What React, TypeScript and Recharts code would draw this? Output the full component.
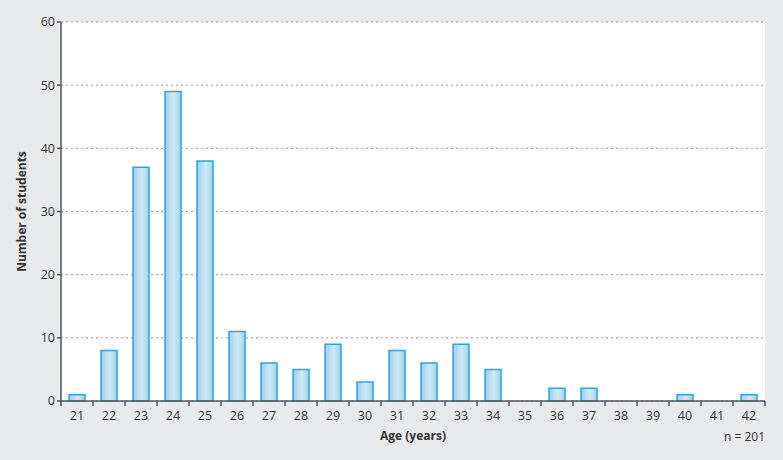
import { BarChart, Bar, XAxis, YAxis, CartesianGrid, Label } from "recharts";

const ages = ["21", "22", "23", "24", "25", "26", "27", "28", "29", "30", "31", "32", "33", "34", "35", "36", "37", "38", "39", "40", "41", "42"];
const students = [1, 8, 37, 49, 38, 11, 6, 5, 9, 3, 8, 6, 9, 5, 0, 2, 2, 0, 0, 1, 0, 1];
const yTicks = [0, 10, 20, 30, 40, 50, 60];

const data = ages.map((age, i) => ({ age, students: students[i] }));

const W = 783;
const H = 460;
const margin = { top: 22, right: 18, bottom: 0, left: 0 };
const yAxisWidth = 61;
const xAxisHeight = 59;
const plotWidth = W - margin.left - margin.right - yAxisWidth;
const band = plotWidth / ages.length;

const font = "'Open Sans', 'Noto Sans', sans-serif";
const axisColor = "#555";

const AgeTick = (props: any) => {
  const { x, y, payload, index } = props;
  const last = index === ages.length - 1;
  return (
    <g>
      <line x1={x - band / 2} x2={x - band / 2} y1={y - 8} y2={y - 3} stroke={axisColor} strokeWidth={1.5} />
      {last && (
        <line x1={x + band / 2} x2={x + band / 2} y1={y - 8} y2={y - 3} stroke={axisColor} strokeWidth={1.5} />
      )}
      <text x={x} y={y + 11} textAnchor="middle" fill="#333" fontSize={12.5} fontFamily={font}>
        {payload.value}
      </text>
    </g>
  );
};

const App = () => {
  return (
    <div style={{ position: "absolute", left: 0, top: 0, width: W, height: H, background: "#e9eaec" }}>
      <BarChart width={W} height={H} data={data} margin={margin}>
        <defs>
          <linearGradient id="barFill" x1="0" y1="0" x2="1" y2="0">
            <stop offset="0%" stopColor="#9ccdee" />
            <stop offset="55%" stopColor="#d2e9f8" />
            <stop offset="100%" stopColor="#a3d1ef" />
          </linearGradient>
        </defs>
        <CartesianGrid vertical={false} fill="#ffffff" stroke="#9a9a9a" strokeDasharray="2 3" />
        <XAxis
          dataKey="age"
          interval={0}
          tickLine={false}
          axisLine={{ stroke: axisColor, strokeWidth: 1.5 }}
          tick={<AgeTick />}
          height={xAxisHeight}
        >
          <Label
            value="Age (years)"
            position="insideTop"
            offset={30}
            style={{ fontFamily: font, fontWeight: 700, fontSize: 12, fill: "#333" }}
          />
        </XAxis>
        <YAxis
          width={yAxisWidth}
          domain={[0, 60]}
          ticks={yTicks}
          interval={0}
          tickSize={4}
          tickLine={{ stroke: axisColor, strokeWidth: 1.5 }}
          axisLine={{ stroke: axisColor, strokeWidth: 1.5 }}
          tick={{ fill: "#333", fontSize: 12.5, fontFamily: font }}
        >
          <Label
            value="Number of students"
            angle={-90}
            position="insideLeft"
            offset={22}
            style={{ textAnchor: "middle", fontFamily: font, fontWeight: 700, fontSize: 12, fill: "#333" }}
          />
        </YAxis>
        <Bar
          dataKey="students"
          fill="url(#barFill)"
          stroke="#29a7e1"
          strokeWidth={1.5}
          barSize={16}
          isAnimationActive={false}
        />
      </BarChart>
      <div
        style={{
          position: "absolute",
          right: 18,
          top: 428,
          fontFamily: font,
          fontSize: 12,
          color: "#333",
        }}
      >
        n = 201
      </div>
    </div>
  );
};

export default App;
